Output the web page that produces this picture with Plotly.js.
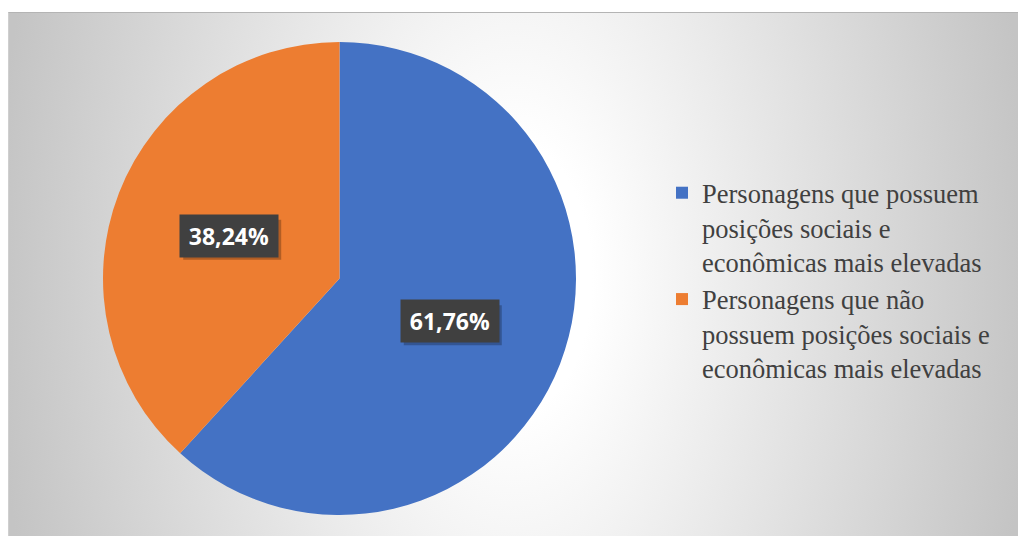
<!DOCTYPE html>
<html>
<head>
<meta charset="utf-8">
<script src="https://cdn.plot.ly/plotly-3.0.1.min.js"></script>
<style>
  html, body { margin: 0; padding: 0; background: #ffffff; }
  #wrap { position: relative; width: 1019px; height: 536px; overflow: hidden; }
  #bg {
    position: absolute; left: 8px; top: 12px; width: 1010px; height: 524px;
    box-sizing: border-box;
    border-top: 1px solid #b4b4b4; border-left: 1px solid #cfcfcf;
    background: radial-gradient(ellipse 520px 900px at 505px 265px, #ffffff 0%, #ffffff 15%, #c4c4c4 100%);
  }
  #chart { position: absolute; left: 0; top: 0; width: 1019px; height: 536px; }
</style>
</head>
<body>
<div id="wrap">
  <div id="bg"></div>
  <div id="chart"></div>
</div>
<script>
// ---- data ----
const categories = [
  "Personagens que possuem<br>posições sociais e<br>econômicas mais elevadas",
  "Personagens que não<br>possuem posições sociais e<br>econômicas mais elevadas"
];
const values = [61.76, 38.24];
const valueLabels = ["61,76%", "38,24%"];
const colors = ["#4472C4", "#ED7D31"];

// ---- layout geometry ----
const W = 1019, H = 536;
const pieCx = 339.5, pieCy = 278.5, pieR = 236.5;
const domX = [(pieCx - pieR) / W, (pieCx + pieR) / W];
const domY = [1 - (pieCy + pieR) / H, 1 - (pieCy - pieR) / H];

// label positions computed from the slice mid-angles (clockwise from 12 o'clock)
const total = values.reduce((a, b) => a + b, 0);
const annotations = [];
const shapes = [];
let cum = 0;
values.forEach((v, i) => {
  const mid = (cum + v / 2) / total * 2 * Math.PI;
  cum += v;
  const px = pieCx + 0.5 * pieR * Math.sin(mid);
  const py = pieCy - 0.5 * pieR * Math.cos(mid);
  const ax = px / W, ay = 1 - py / H;
  // soft shadow behind the label box
  shapes.push({
    type: "rect", layer: "above",
    xref: "paper", yref: "paper",
    xsizemode: "pixel", ysizemode: "pixel",
    xanchor: ax, yanchor: ay,
    x0: -46, x1: 52, y0: -24, y1: 16,
    fillcolor: "rgba(0,0,0,0.25)", line: { width: 0 }
  });
  annotations.push({
    x: ax, y: ay, xref: "paper", yref: "paper",
    xanchor: "center", yanchor: "middle", showarrow: false,
    text: "\u2009" + valueLabels[i] + "\u2009",
    font: { family: "Open Sans, sans-serif", size: 23, color: "#ffffff", weight: "bold" },
    bgcolor: "#404040",
    borderpad: 5
  });
});

const trace = {
  type: "pie",
  labels: categories,
  values: values,
  sort: false,
  direction: "clockwise",
  rotation: 0,
  marker: { colors: colors, line: { width: 0 } },
  textinfo: "none",
  hoverinfo: "label+percent",
  domain: { x: domX, y: domY }
};

const layout = {
  width: W, height: H,
  margin: { l: 0, r: 0, t: 0, b: 0, pad: 0 },
  paper_bgcolor: "rgba(0,0,0,0)",
  plot_bgcolor: "rgba(0,0,0,0)",
  showlegend: true,
  legend: {
    x: 662 / W, y: 1 - 169 / H, xanchor: "left", yanchor: "top",
    bgcolor: "rgba(0,0,0,0)", borderwidth: 0,
    font: { family: "Liberation Serif, Times New Roman, serif", size: 26.5, color: "#404040" },
    valign: "top", traceorder: "normal"
  },
  shapes: shapes,
  annotations: annotations
};

Plotly.newPlot("chart", [trace], layout, { staticPlot: true, displayModeBar: false });
</script>
</body>
</html>
